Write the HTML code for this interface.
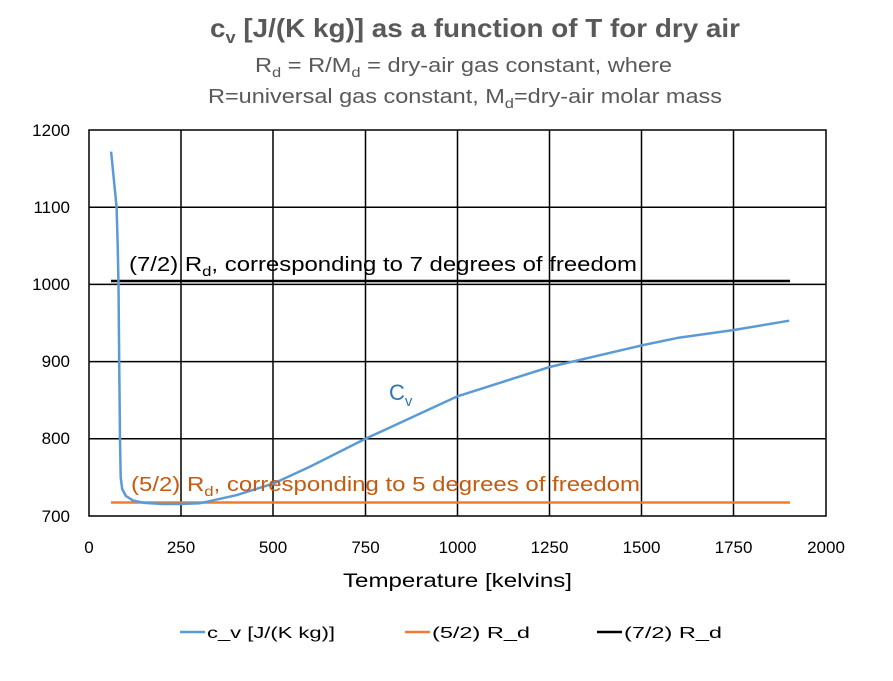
<!DOCTYPE html><html><head><meta charset="utf-8"><style>body{margin:0;background:#fff}svg{display:block;font-family:"Liberation Sans",Arial,sans-serif}</style></head><body>
<svg width="893" height="681" xmlns="http://www.w3.org/2000/svg">
<rect width="893" height="681" fill="#fff"/>
<text x="210" y="37" font-size="26" font-weight="bold" fill="#595959" textLength="530" lengthAdjust="spacingAndGlyphs">c<tspan font-size="17" dy="6">v</tspan><tspan dy="-6"> [J/(K kg)] as a function of T for dry air</tspan></text>
<text x="255" y="72" font-size="20" fill="#595959" textLength="417" lengthAdjust="spacingAndGlyphs">R<tspan font-size="14" dy="5">d</tspan><tspan dy="-5"> = R/M</tspan><tspan font-size="14" dy="5">d</tspan><tspan dy="-5"> = dry-air gas constant, where</tspan></text>
<text x="208" y="103" font-size="20" fill="#595959" textLength="514" lengthAdjust="spacingAndGlyphs">R=universal gas constant, M<tspan font-size="14" dy="5">d</tspan><tspan dy="-5">=dry-air molar mass</tspan></text>
<g stroke="#000" stroke-width="1.5" fill="none">
<rect x="89" y="130" width="737" height="386"/>
<path d="M181 130V516M273 130V516M365.5 130V516M457.5 130V516M549.5 130V516M641.5 130V516M733.5 130V516M89 207.2H826M89 284.4H826M89 361.6H826M89 438.8H826"/>
</g>
<g font-size="17" fill="#000" text-anchor="end">
<text x="70" y="136">1200</text><text x="70" y="213">1100</text><text x="70" y="290">1000</text><text x="70" y="367">900</text><text x="70" y="444">800</text><text x="70" y="522">700</text>
</g>
<g font-size="17" fill="#000" text-anchor="middle">
<text x="89" y="553">0</text><text x="181" y="553">250</text><text x="273" y="553">500</text><text x="365.5" y="553">750</text><text x="457.5" y="553">1000</text><text x="549.5" y="553">1250</text><text x="641.5" y="553">1500</text><text x="733.5" y="553">1750</text><text x="826" y="553">2000</text>
</g>
<text x="343" y="587" font-size="19" fill="#000" textLength="229" lengthAdjust="spacingAndGlyphs">Temperature  [kelvins]</text>
<line x1="111" y1="281" x2="790" y2="281" stroke="#000" stroke-width="2.5"/>
<line x1="111" y1="502.5" x2="790" y2="502.5" stroke="#ED7D31" stroke-width="2.5"/>
<polyline fill="none" stroke="#5B9BD5" stroke-width="2.5" stroke-linejoin="round" points="111.1,151.6 116.6,207.2 117.7,245.8 118.5,284.4 119.2,361.6 120,438.8 120.7,477.4 122.2,489 125.9,496 133.2,500.6 144.3,502.9 162.7,504 181.1,504 199.6,503.3 236.4,495.2 273.3,483.6 310.1,466.6 365.4,438.8 457.5,396.3 549.6,367 641.8,345.4 678.6,337.7 733.9,330 789.2,320.7"/>
<text x="129" y="271" font-size="20" fill="#000" textLength="508" lengthAdjust="spacingAndGlyphs">(7/2) R<tspan font-size="14" dy="5">d</tspan><tspan dy="-5">, corresponding to 7 degrees of freedom</tspan></text>
<text x="131" y="491" font-size="20" fill="#C55A11" textLength="509" lengthAdjust="spacingAndGlyphs">(5/2) R<tspan font-size="14" dy="5">d</tspan><tspan dy="-5">, corresponding to 5 degrees of freedom</tspan></text>
<text x="389" y="400" font-size="22" fill="#2E75B6">C<tspan font-size="15" dy="6">v</tspan></text>
<g font-size="16" fill="#000">
<line x1="180" y1="632" x2="205" y2="632" stroke="#5B9BD5" stroke-width="2.5"/><text x="207" y="638" textLength="128" lengthAdjust="spacingAndGlyphs">c_v [J/(K kg)]</text>
<line x1="405" y1="632" x2="430" y2="632" stroke="#ED7D31" stroke-width="2.5"/><text x="432" y="638" textLength="98" lengthAdjust="spacingAndGlyphs">(5/2) R_d</text>
<line x1="597" y1="632" x2="622" y2="632" stroke="#000" stroke-width="2.5"/><text x="624" y="638" textLength="98" lengthAdjust="spacingAndGlyphs">(7/2) R_d</text>
</g>
</svg></body></html>
